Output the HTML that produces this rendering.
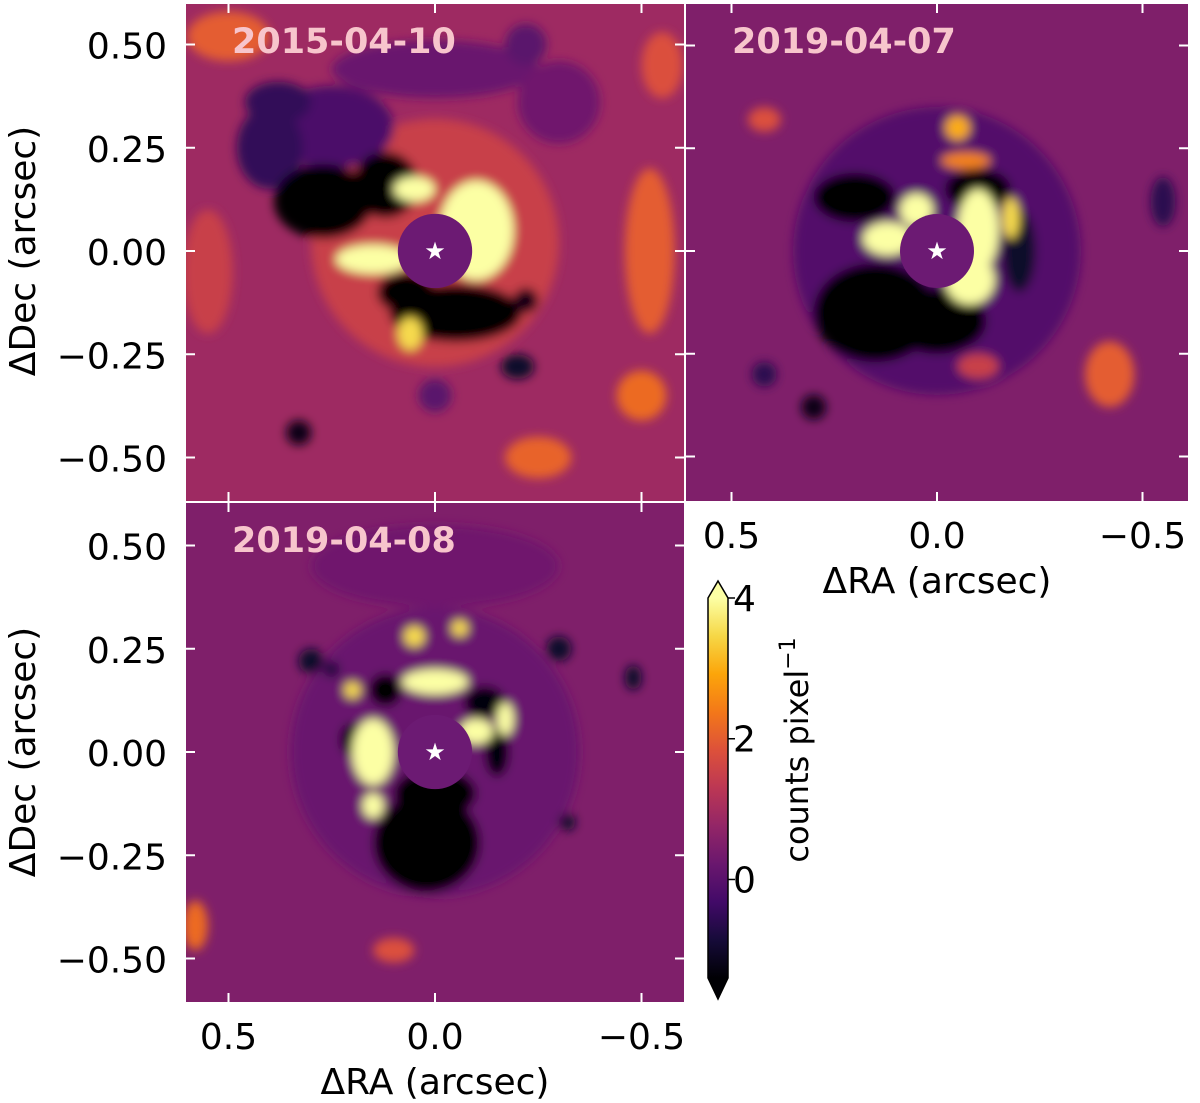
<!DOCTYPE html>
<html><head><meta charset="utf-8"><style>
body{margin:0;background:#fff;}
svg{display:block;font-family:"DejaVu Sans","Liberation Sans",sans-serif;}
</style></head><body>
<svg id="fig" width="1200" height="1103" viewBox="0 0 1200 1103" xmlns="http://www.w3.org/2000/svg">
<defs>
<filter id="blur" x="-50%" y="-50%" width="200%" height="200%"><feGaussianBlur stdDeviation="5"/></filter>
<linearGradient id="cbgrad" x1="0" y1="1" x2="0" y2="0">
<stop offset="0" stop-color="#000004"/><stop offset="0.1" stop-color="#160b39"/><stop offset="0.2" stop-color="#420a68"/><stop offset="0.3" stop-color="#6a176e"/><stop offset="0.4" stop-color="#932667"/><stop offset="0.5" stop-color="#bc3754"/><stop offset="0.6" stop-color="#dd513a"/><stop offset="0.7" stop-color="#f37819"/><stop offset="0.8" stop-color="#fca50a"/><stop offset="0.9" stop-color="#f6d746"/><stop offset="1" stop-color="#fcffa4"/>
</linearGradient>
</defs>
</svg>
<script>
// ---- data ----
const panelTitles = ["2015-04-10","2019-04-07","2019-04-08"];
const backgroundValues = [0.9, 0.5, 0.5];
const yTicks = [0.5,0.25,0,-0.25,-0.5];
const yTickLabels = ["0.50","0.25","0.00","\u22120.25","\u22120.50"];
const xTicks = [0.5,0,-0.5];
const xTickLabels = ["0.5","0.0","\u22120.5"];
const cbTicks = [4,2,0];
const cbTickLabels = ["4","2","0"];
const vmin = -1.4, vmax = 4;
// blobs: [ra, dec, rx, ry, value]
const blobs2015 = [
 [0,0.02,0.3,0.3,1.5],[0.25,0.3,0.15,0.1,-0.2],[0.0,0.44,0.25,0.07,0.2],[-0.3,0.36,0.1,0.1,0.3],[0.4,0.25,0.08,0.1,-0.5],[0.38,0.36,0.08,0.05,-0.5],
 [-0.52,0.0,0.06,0.2,2.0],[-0.5,-0.35,0.06,0.06,2.2],[0.5,0.52,0.1,0.06,2.0],[-0.25,-0.5,0.08,0.05,2.1],[0.55,-0.05,0.06,0.15,1.5],[-0.55,0.45,0.05,0.08,1.8],
 [0.33,-0.44,0.03,0.03,-1.2],[-0.2,-0.28,0.04,0.03,-1],[0.0,-0.35,0.04,0.04,0],[-0.22,0.5,0.05,0.05,0],
 [0.27,0.12,0.12,0.09,-1.4],[0.12,0.16,0.08,0.08,-1.4],[-0.05,-0.15,0.16,0.07,-1.4],[0.07,-0.1,0.07,0.05,-1.4],
 [-0.1,0.05,0.09,0.12,4.5],[0.15,-0.02,0.09,0.035,4],[0.06,-0.2,0.03,0.04,3.5],[0.05,0.15,0.05,0.03,4],[-0.22,-0.12,0.03,0.03,-1.2]
];
const blobs2019a = [
 [0,0,0.35,0.35,-0.1],
 [-0.05,0.3,0.03,0.03,3],[-0.07,0.22,0.06,0.02,2.5],[-0.42,-0.3,0.06,0.08,2],[0.42,0.32,0.04,0.03,1.8],[-0.1,-0.28,0.05,0.03,1.5],
 [0.3,-0.38,0.03,0.03,-1.2],[-0.55,0.12,0.03,0.06,-0.6],[0.42,-0.3,0.03,0.03,-0.6],
 [0.15,-0.15,0.15,0.12,-1.4],[0.0,-0.17,0.12,0.08,-1.4],[0.2,0.13,0.1,0.06,-1.4],[-0.1,0.15,0.08,0.05,-1.4],[-0.2,0.0,0.04,0.1,-1.0],
 [-0.1,0.05,0.05,0.1,4.5],[-0.08,-0.07,0.06,0.06,4.5],[0.12,0.03,0.06,0.04,4.5],[0.05,0.1,0.04,0.04,4],[-0.18,0.08,0.02,0.05,3.5]
];
const blobs2019b = [
 [0,0,0.35,0.35,0.2],[0.58,-0.42,0.03,0.06,2.2],[0.1,-0.48,0.05,0.03,1.8],[0.0,0.45,0.3,0.1,0.3],
 [0.3,0.22,0.03,0.03,-1],[-0.3,0.25,0.03,0.03,-1],[-0.32,-0.17,0.02,0.02,-1],[-0.48,0.18,0.02,0.03,-1],[0.25,0.2,0.02,0.02,-0.8],
 [0.02,-0.22,0.13,0.12,-1.4],[0.0,-0.1,0.1,0.06,-1.4],[0.12,0.15,0.04,0.04,-1.4],[-0.12,0.12,0.05,0.04,-1.3],[-0.15,0.0,0.03,0.06,-1.3],[0.2,0.03,0.03,0.04,-1.2],
 [0.15,0.0,0.05,0.08,4.5],[0.15,-0.13,0.025,0.03,4.5],[0.0,0.17,0.08,0.03,4.5],[-0.1,0.05,0.04,0.03,4.5],[-0.17,0.08,0.02,0.04,4],[0.05,0.28,0.025,0.025,3.5],[-0.06,0.3,0.02,0.02,3.5],[0.2,0.15,0.02,0.02,3.5]
];
const panelBlobs = [blobs2015, blobs2019a, blobs2019b];

// ---- layout ----
const panels = [
 {x0:186,x1:684,y0:4,y1:501,cx:435,cy:251,s:413,yl:true,xl:false},
 {x0:686,x1:1188,y0:4,y1:501,cx:937,cy:251,s:411,yl:false,xl:true},
 {x0:186,x1:684,y0:503,y1:1002,cx:435,cy:752,s:413,yl:true,xl:true}
];
const stops=[[0,"#000004"],[0.1,"#160b39"],[0.2,"#420a68"],[0.3,"#6a176e"],[0.4,"#932667"],[0.5,"#bc3754"],[0.6,"#dd513a"],[0.7,"#f37819"],[0.8,"#fca50a"],[0.9,"#f6d746"],[1,"#fcffa4"]];
function hex(h){return [1,3,5].map(i=>parseInt(h.substr(i,2),16));}
function cmap(v){let t=(v-vmin)/(vmax-vmin);t=Math.max(0,Math.min(1,t));
 for(let i=0;i<stops.length-1;i++){if(t<=stops[i+1][0]){const a=hex(stops[i][1]),b=hex(stops[i+1][1]);const f=(t-stops[i][0])/(stops[i+1][0]-stops[i][0]);return "rgb("+a.map((c,k)=>Math.round(c+(b[k]-c)*f)).join(",")+")";}}
 return stops[stops.length-1][1];}
const NS="http://www.w3.org/2000/svg";
const svg=document.getElementById("fig");
function mk(tag,attrs,parent){const e=document.createElementNS(NS,tag);for(const k in attrs)e.setAttribute(k,attrs[k]);(parent||svg).appendChild(e);return e;}
const FS="36";

panels.forEach((p,i)=>{
 const xs=ra=>p.cx-ra*p.s, ys=d=>p.cy-d*p.s;
 const cp=mk("clipPath",{id:"clip"+i},svg.querySelector("defs"));
 mk("rect",{x:p.x0,y:p.y0,width:p.x1-p.x0,height:p.y1-p.y0},cp);
 const g=mk("g",{"clip-path":"url(#clip"+i+")"});
 
 
 const bg=mk("rect",{x:p.x0,y:p.y0,width:p.x1-p.x0,height:p.y1-p.y0,fill:cmap(backgroundValues[i])},g);
 
 
 const bg2=mk("g",{filter:"url(#blur)"},g);
 panelBlobs[i].forEach(b=>{
  const e=mk("ellipse",{cx:xs(b[0]),cy:ys(b[1]),rx:b[2]*p.s,ry:b[3]*p.s,fill:cmap(b[4])},bg2);
  
  
 });
 const m=mk("circle",{cx:xs(0),cy:ys(0),r:0.09*p.s,fill:"#6c1a73"},g);
 
 
 const st=mk("text",{x:xs(0),y:ys(0)+8,"text-anchor":"middle","font-size":"24",fill:"#fff"},g);
 st.textContent="\u2605";
 
 
 yTicks.forEach(t=>{
  mk("line",{x1:p.x0,x2:p.x0+9,y1:ys(t),y2:ys(t),stroke:"#fff","stroke-width":2});
  mk("line",{x1:p.x1-9,x2:p.x1,y1:ys(t),y2:ys(t),stroke:"#fff","stroke-width":2});
 });
 xTicks.forEach(t=>{
  mk("line",{x1:xs(t),x2:xs(t),y1:p.y0,y2:p.y0+9,stroke:"#fff","stroke-width":2});
  mk("line",{x1:xs(t),x2:xs(t),y1:p.y1-9,y2:p.y1,stroke:"#fff","stroke-width":2});
 });
 if(p.yl){
  yTicks.forEach((t,k)=>{const e=mk("text",{x:167,y:ys(t)+14,"text-anchor":"end","font-size":FS,fill:"#000"});e.textContent=yTickLabels[k];
   });
  const yt=mk("text",{x:0,y:0,transform:"translate(35,"+p.cy+") rotate(-90)","text-anchor":"middle","font-size":FS,fill:"#000"});
  yt.textContent="\u0394Dec (arcsec)";
  
 }
 if(p.xl){
  xTicks.forEach((t,k)=>{const e=mk("text",{x:xs(t),y:p.y1+47,"text-anchor":"middle","font-size":FS,fill:"#000"});e.textContent=xTickLabels[k];
   });
  const xt=mk("text",{x:p.cx,y:p.y1+92,"text-anchor":"middle","font-size":FS,fill:"#000"});
  xt.textContent="\u0394RA (arcsec)";
  
 }
 const ti=mk("text",{x:p.x0+46,y:p.y0+49,"font-size":"35","font-weight":"bold",fill:"#f7c5cc"});
 ti.textContent=panelTitles[i];
 
});

// colorbar
const cb={x0:708,x1:728,top:598,bot:978};
const cys=v=>cb.bot-(v-vmin)/(vmax-vmin)*(cb.bot-cb.top);
const cbg=mk("g",{});


mk("rect",{x:cb.x0,y:cb.top,width:cb.x1-cb.x0,height:cb.bot-cb.top,fill:"url(#cbgrad)"},cbg);
mk("polygon",{points:`${cb.x0},${cb.top} ${cb.x1},${cb.top} ${(cb.x0+cb.x1)/2},${cb.top-17}`,fill:"#fcffa4"},cbg);
mk("polygon",{points:`${cb.x0},${cb.bot} ${cb.x1},${cb.bot} ${(cb.x0+cb.x1)/2},${cb.bot+21}`,fill:"#000004"},cbg);
mk("path",{d:`M${cb.x0},${cb.top} L${(cb.x0+cb.x1)/2},${cb.top-17} L${cb.x1},${cb.top} L${cb.x1},${cb.bot} L${(cb.x0+cb.x1)/2},${cb.bot+21} L${cb.x0},${cb.bot} Z`,fill:"none",stroke:"#000","stroke-width":1.5},cbg);
cbTicks.forEach((t,k)=>{
 mk("line",{x1:cb.x1,x2:cb.x1+7,y1:cys(t),y2:cys(t),stroke:"#000","stroke-width":1.5},cbg);
 const e=mk("text",{x:cb.x1+5,y:cys(t)+13,"font-size":FS,fill:"#000"},cbg);e.textContent=cbTickLabels[k];
 
});
const cl=mk("text",{x:0,y:0,transform:"translate(808,750) rotate(-90)","text-anchor":"middle","font-size":"32",fill:"#000"});
cl.innerHTML='counts pixel<tspan dy="-13" font-size="22">\u22121</tspan>';

</script>
</body></html>
